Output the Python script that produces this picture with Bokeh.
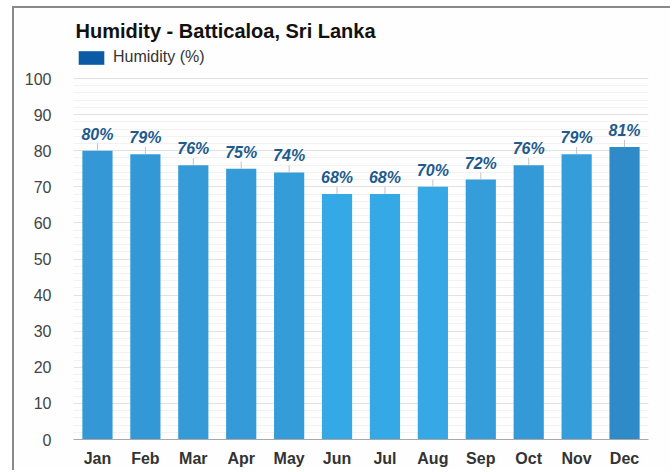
from bokeh.plotting import figure
from bokeh.models import (ColumnDataSource, Label, Legend, LegendItem,
                          FixedTicker)
from bokeh.core.properties import value
from bokeh.embed import file_html
from bokeh.resources import INLINE

# ---- data ----
months = ["Jan", "Feb", "Mar", "Apr", "May", "Jun",
          "Jul", "Aug", "Sep", "Oct", "Nov", "Dec"]
humidity = [80, 79, 76, 75, 74, 68, 68, 70, 72, 76, 79, 81]
bar_colors = ["#3398d5", "#3399d6", "#349bd8", "#349bd8", "#349cd9", "#35a9e6",
              "#35a9e6", "#35a8e5", "#359dd9", "#339ad7", "#359dda", "#2f8bc7"]
y_ticks = [0, 10, 20, 30, 40, 50, 60, 70, 80, 90, 100]
title_text = "Humidity - Batticaloa, Sri Lanka"
legend_label = "Humidity (%)"

FONT = "Liberation Sans"

src = ColumnDataSource(dict(
    month=months,
    hum=humidity,
    color=bar_colors,
    label=[f"{v}%" for v in humidity],
    lead=[v + 2 for v in humidity],
))

# top of the range leaves room for title + legend inside the plot area
p = figure(x_range=months, y_range=(0, 119.4), width=658, height=464,
           title=None, output_backend="svg", toolbar_location=None,
           min_border_left=59, min_border_right=24,
           min_border_top=0, min_border_bottom=33)
p.styles = {"margin-left": "12px", "margin-top": "6px",
            "border-left": "2px solid #8a8a8a",
            "border-top": "2px solid #8a8a8a"}
p.background_fill_color = "#fdfefd"
p.border_fill_color = "#fdfefd"
p.outline_line_color = None

bars = p.vbar(x="month", top="hum", width=0.63, source=src,
              fill_color="color", line_color=None)
p.segment(x0="month", y0="hum", x1="month", y1="lead", source=src,
          line_color="#c4c4c4", line_width=1)
p.text(x="month", y="hum", text="label", source=src,
       y_offset=-8, text_align="center", text_baseline="bottom",
       text_font=value(FONT), text_font_style="bold italic",
       text_font_size="16px", text_color="#1e5a8c")

# axes
minor = [v for v in range(0, 101, 2)]
ticker = FixedTicker(ticks=y_ticks, minor_ticks=minor)
p.yaxis.ticker = ticker
p.ygrid.ticker = ticker
p.yaxis.axis_line_color = None
p.yaxis.major_tick_line_color = None
p.yaxis.minor_tick_line_color = None
p.yaxis.major_label_standoff = 16
p.yaxis.major_label_text_font = FONT
p.yaxis.major_label_text_font_size = "16px"
p.yaxis.major_label_text_color = "#444444"

p.xaxis.axis_line_color = "#a8a8a8"
p.xaxis.major_tick_line_color = None
p.xaxis.minor_tick_line_color = None
p.xaxis.major_label_standoff = 4
p.xaxis.major_label_text_font = FONT
p.xaxis.major_label_text_font_style = "bold"
p.xaxis.major_label_text_font_size = "16px"
p.xaxis.major_label_text_color = "#333333"

p.xgrid.grid_line_color = None
p.ygrid.grid_line_color = "#e2e2e2"
p.ygrid.minor_grid_line_color = "#f1f2f1"

# title
p.add_layout(Label(x=2, y=409, x_units="screen", y_units="screen",
                   text=title_text, text_font=FONT,
                   text_font_style="bold", text_font_size="20px",
                   text_color="#111111", text_baseline="middle"))

# legend
dummy = p.vbar(x=["Jan"], top=[0], bottom=[0], width=0.6,
               fill_color="#0a5aa6", line_color=None)
legend = Legend(items=[LegendItem(label=legend_label, renderers=[dummy])],
                location=(2, 373), padding=0, margin=0,
                border_line_color=None, background_fill_alpha=0,
                glyph_width=32, glyph_height=17, label_height=17,
                label_standoff=6,
                label_text_font=FONT, label_text_font_size="16px",
                label_text_color="#333333")
p.add_layout(legend, "center")

open("out.html", "w").write(file_html(p, INLINE))
